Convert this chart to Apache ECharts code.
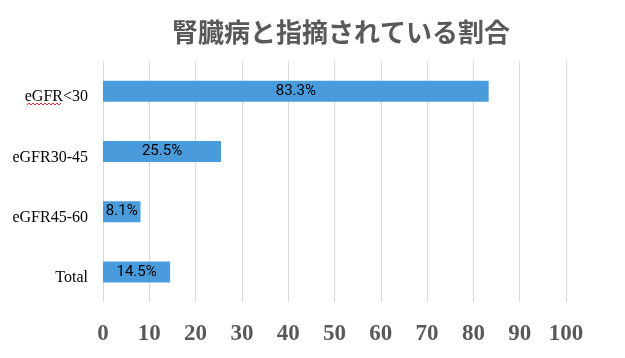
<!DOCTYPE html>
<html><head><meta charset="utf-8">
<script src="https://cdn.jsdelivr.net/npm/echarts@6/dist/echarts.min.js"></script>
<style>html,body{margin:0;padding:0;background:#fff}#c{width:625px;height:358px}</style>
</head><body><div id="c"></div>
<script>
const categories = ['eGFR<30', 'eGFR30-45', 'eGFR45-60', 'Total'];
const values = [83.3, 25.5, 8.1, 14.5];
const xTicks = [0, 10, 20, 30, 40, 50, 60, 70, 80, 90, 100];
const titleText = '腎臓病と指摘されている割合';

// spell-check squiggle under "eGFR" (decoration)
const squiggle = [];
for (let i = 0; i <= 17; i++) squiggle.push([27 + i * 2, i % 2 ? 103 : 105]);

const chart = echarts.init(document.getElementById('c'));
chart.setOption({
  animation: false,
  title: {
    text: titleText, left: 336, top: 14, textAlign: 'center',
    textStyle: { fontFamily: 'Noto Sans CJK JP', fontWeight: 'bold', fontSize: 26, color: '#595959' }
  },
  grid: { left: 103, right: 59, top: 61, bottom: 56, containLabel: false },
  xAxis: {
    type: 'value', min: xTicks[0], max: xTicks[xTicks.length - 1], interval: 10,
    axisLine: { show: false }, axisTick: { show: false },
    splitLine: { show: true, lineStyle: { color: '#d9d9d9', width: 1 } },
    axisLabel: { margin: 21, fontFamily: 'Liberation Serif', fontWeight: 'bold', fontSize: 23, color: '#595959' }
  },
  yAxis: {
    type: 'category', data: categories, inverse: true,
    axisLine: { show: false }, axisTick: { show: false },
    axisLabel: { margin: 15, verticalAlign: 'top', lineHeight: 12, fontFamily: 'Liberation Serif', fontSize: 16, color: '#000' }
  },
  series: [{
    type: 'bar', data: values, barWidth: 21,
    itemStyle: { color: '#4A9BDB' },
    label: {
      show: true, position: 'inside', formatter: p => p.value.toFixed(1) + '%',
      fontFamily: 'Roboto', fontSize: 15, color: '#000'
    }
  }],
  graphic: [{
    type: 'polyline', silent: true,
    shape: { points: squiggle },
    style: { stroke: '#e03030', lineWidth: 1, fill: null }
  }]
});
</script></body></html>
